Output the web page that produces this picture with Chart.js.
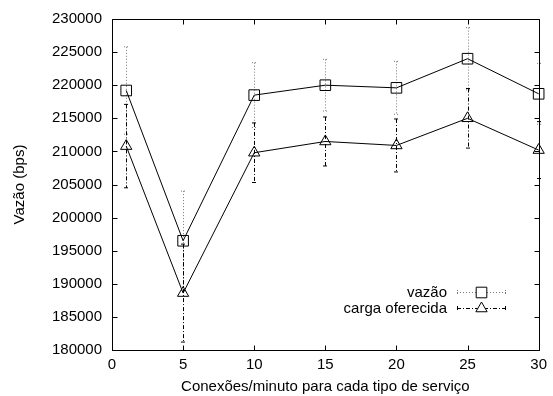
<!DOCTYPE html>
<html>
<head>
<meta charset="utf-8">
<script src="https://cdn.jsdelivr.net/npm/chart.js@4"></script>
<style>
html, body { margin: 0; padding: 0; background: #fff; }
</style>
</head>
<body>
<canvas id="grafico" width="553" height="396"></canvas>
<script>
// valores
const conexoes = [1, 5, 10, 15, 20, 25, 30]
const vazao = [219200, 196500, 218500, 220000, 219600, 224000, 218700]
const vazaoErro = [6600, 7500, 4900, 3900, 4000, 4700, 4600]
const carga = [210800, 188600, 209800, 211500, 210900, 215000, 210200]
const cargaErro = [6300, 7400, 4500, 3700, 4000, 4500, 4300]
const nomes = ['vazão', 'carga oferecida']
const xTitulo = 'Conexões/minuto para cada tipo de serviço'
const yTitulo = 'Vazão (bps)'

const fonte = "'Liberation Sans', Arial, sans-serif"
const tamFonte = 15

function pontos(ys) {
    return conexoes.map((x, i) => ({x: x, y: ys[i]}))
}

const erros = [vazaoErro, cargaErro]
const estilosErro = [
    {cor: '#7a7a7a', dash: [1, 2]},
    {cor: '#000000', dash: [4, 2, 1, 2]}
]

const barrasErro = {
    id: 'barrasErro',
    beforeDatasetsDraw(chart) {
        const ctx = chart.ctx
        const xs = chart.scales.x
        const ys = chart.scales.y
        chart.data.datasets.forEach((ds, d) => {
            const est = estilosErro[d]
            ctx.save()
            ctx.strokeStyle = est.cor
            ctx.lineWidth = 1
            ctx.setLineDash(est.dash)
            ds.data.forEach((p, i) => {
                const px = Math.round(xs.getPixelForValue(p.x)) + 0.5
                const topo = ys.getPixelForValue(p.y + erros[d][i])
                const base = ys.getPixelForValue(p.y - erros[d][i])
                ctx.beginPath()
                ctx.moveTo(px, topo)
                ctx.lineTo(px, base)
                ctx.moveTo(px - 2.5, topo)
                ctx.lineTo(px + 2.5, topo)
                ctx.moveTo(px - 2.5, base)
                ctx.lineTo(px + 2.5, base)
                ctx.stroke()
            })
            ctx.restore()
        })
    }
}

const moldura = {
    id: 'moldura',
    afterDatasetsDraw(chart) {
        const ctx = chart.ctx
        const a = chart.chartArea
        const xs = chart.scales.x
        const ys = chart.scales.y
        const l = Math.round(a.left) + 0.5
        const r = Math.round(a.right) + 0.5
        const t = Math.round(a.top) + 0.5
        const b = Math.round(a.bottom) + 0.5
        ctx.save()
        ctx.strokeStyle = '#000'
        ctx.lineWidth = 1
        ctx.beginPath()
        ctx.rect(l, t, r - l, b - t)
        xs.ticks.forEach(tk => {
            const px = Math.round(xs.getPixelForValue(tk.value)) + 0.5
            ctx.moveTo(px, b)
            ctx.lineTo(px, b - 5)
            ctx.moveTo(px, t)
            ctx.lineTo(px, t + 5)
        })
        ys.ticks.forEach(tk => {
            const py = Math.round(ys.getPixelForValue(tk.value)) + 0.5
            ctx.moveTo(l, py)
            ctx.lineTo(l + 5, py)
            ctx.moveTo(r, py)
            ctx.lineTo(r - 5, py)
        })
        ctx.stroke()
        ctx.restore()
    }
}

// legenda no estilo do gnuplot: texto a esquerda, amostra a direita
const legenda = {
    id: 'legenda',
    afterDraw(chart) {
        const ctx = chart.ctx
        const xTexto = 447
        const x0 = 457, x1 = 506
        const linhas = [292.5, 308.5]
        ctx.save()
        ctx.font = tamFonte + 'px ' + fonte
        ctx.fillStyle = '#000'
        ctx.textAlign = 'right'
        ctx.textBaseline = 'middle'
        chart.data.datasets.forEach((ds, d) => {
            const y = linhas[d]
            ctx.fillText(ds.label, xTexto, y)
            const est = estilosErro[d]
            ctx.strokeStyle = est.cor
            ctx.lineWidth = 1
            ctx.setLineDash(est.dash)
            ctx.beginPath()
            ctx.moveTo(x0, y)
            ctx.lineTo(x1, y)
            ctx.moveTo(x0 + 0.5, y - 2.5)
            ctx.lineTo(x0 + 0.5, y + 2.5)
            ctx.moveTo(x1 - 0.5, y - 2.5)
            ctx.lineTo(x1 - 0.5, y + 2.5)
            ctx.stroke()
            ctx.setLineDash([])
            ctx.strokeStyle = '#000'
            ctx.fillStyle = '#fff'
            Chart.helpers.drawPoint(ctx, {
                pointStyle: ds.pointStyle,
                radius: ds.pointRadius,
                borderWidth: 1,
                rotation: 0
            }, (x0 + x1) / 2, y)
            ctx.fillStyle = '#000'
        })
        ctx.restore()
    }
}

new Chart(document.querySelector('#grafico'), {
    type: 'line',
    data: {
        datasets: [
            {
                label: nomes[0],
                data: pontos(vazao),
                borderColor: '#000',
                borderWidth: 1,
                pointStyle: 'rect',
                pointRadius: 7.5,
                pointBorderColor: '#000',
                pointBackgroundColor: 'rgba(0,0,0,0)',
                pointBorderWidth: 1,
                tension: 0,
                clip: false
            },
            {
                label: nomes[1],
                data: pontos(carga),
                borderColor: '#000',
                borderWidth: 1,
                pointStyle: 'triangle',
                pointRadius: 6.5,
                pointBorderColor: '#000',
                pointBackgroundColor: 'rgba(0,0,0,0)',
                pointBorderWidth: 1,
                tension: 0,
                clip: false
            }
        ]
    },
    options: {
        responsive: false,
        animation: false,
        layout: {
            autoPadding: false,
            padding: {top: 19, right: 10, left: 0, bottom: 0}
        },
        plugins: {
            legend: {display: false},
            tooltip: {enabled: false}
        },
        scales: {
            x: {
                type: 'linear',
                min: 0,
                max: 30,
                ticks: {
                    stepSize: 5,
                    color: '#000',
                    padding: 6,
                    maxRotation: 0,
                    font: {family: fonte, size: tamFonte}
                },
                grid: {display: false, drawTicks: false},
                border: {display: false},
                title: {
                    display: true,
                    text: xTitulo,
                    color: '#000',
                    font: {family: fonte, size: tamFonte},
                    padding: {top: 0, bottom: 0}
                },
                afterFit(s) { s.height = 46 }
            },
            y: {
                min: 180000,
                max: 230000,
                ticks: {
                    stepSize: 5000,
                    color: '#000',
                    padding: 10,
                    font: {family: fonte, size: tamFonte},
                    callback: v => String(v)
                },
                grid: {display: false, drawTicks: false},
                border: {display: false},
                title: {
                    display: true,
                    text: yTitulo,
                    color: '#000',
                    font: {family: fonte, size: tamFonte},
                    padding: {top: 11, bottom: 0}
                },
                afterFit(s) { s.width = 112 }
            }
        }
    },
    plugins: [barrasErro, moldura, legenda]
})
</script>
</body>
</html>
